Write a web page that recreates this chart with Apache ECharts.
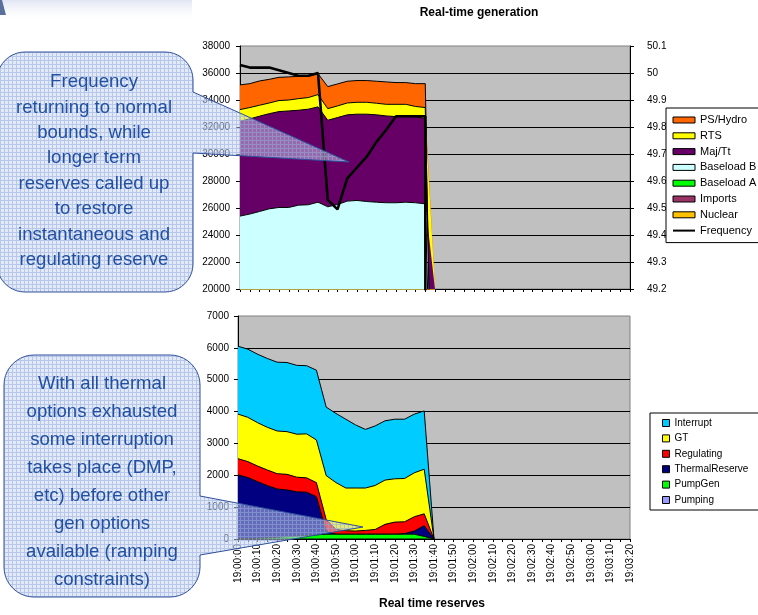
<!DOCTYPE html>
<html>
<head>
<meta charset="utf-8">
<script src="https://cdn.jsdelivr.net/npm/echarts@6/dist/echarts.min.js"></script>
<style>
  html, body { margin: 0; padding: 0; background: #fff; }
  #chart { width: 758px; height: 615px; }
</style>
</head>
<body>
<div id="chart"></div>
<script>
// Time axis, one category every 5 seconds; labels shown every 10 seconds
const timeLabels = [
  '19:00:00','19:00:05','19:00:10','19:00:15','19:00:20','19:00:25','19:00:30','19:00:35',
  '19:00:40','19:00:45','19:00:50','19:00:55','19:01:00','19:01:05','19:01:10','19:01:15',
  '19:01:20','19:01:25','19:01:30','19:01:35','19:01:40','19:01:45','19:01:50','19:01:55',
  '19:02:00','19:02:05','19:02:10','19:02:15','19:02:20','19:02:25','19:02:30','19:02:35',
  '19:02:40','19:02:45','19:02:50','19:02:55','19:03:00','19:03:05','19:03:10','19:03:15',
  '19:03:20'
];

// Real-time generation (MW), stacked bottom to top
const nuclear    = [7000,7000,7000,7000,7000,7000,7000,7000,7000,7000,7000,7000,7000,7000,7000,7000,7000,7000,7000,7000,0];
const imports    = [2500,2500,2500,2500,2500,2500,2500,2500,2500,2500,2500,2500,2500,2500,2500,2500,2500,2500,2500,2500,0];
const baseloadA  = [8500,8500,8500,8500,8500,8500,8500,8500,8500,8500,8500,8500,8500,8500,8500,8500,8500,8500,8500,8500,0];
const baseloadB  = [7400,7550,7740,7940,8040,8040,8210,8240,8430,8090,8260,8510,8560,8480,8430,8390,8390,8430,8390,8310,0];
const majTt      = [7030,7050,7060,7050,7100,7150,7030,7080,7060,6410,6440,6390,6390,6470,6470,6430,6380,6340,6360,6340,0];
const rts        = [860,840,810,790,820,810,860,860,910,860,860,880,880,880,860,860,910,910,770,790,0];
const psHydro    = [1830,1770,1800,1750,1720,1710,1660,1580,1550,1630,1630,1610,1610,1610,1630,1660,1610,1610,1690,1770,0];
// System frequency (Hz), right axis
const frequency  = [50.03,50.02,50.02,50.02,50.01,50.00,49.99,49.99,50.00,49.53,49.495,49.61,49.65,49.69,49.745,49.79,49.84,49.84,49.84,49.84,0];

// Real time reserves (MW), stacked bottom to top
const pumping        = [0,0,0,0,0,0,0,0,0,0,0,0,0,0,0,0,0,0,0,0,0];
const pumpGen        = [0,10,20,35,50,70,90,110,130,150,150,150,150,150,150,150,150,150,150,80,0];
const thermalReserve = [2010,1920,1780,1640,1520,1470,1390,1360,1200,100,0,0,0,0,0,0,0,20,100,340,0];
const regulating     = [510,500,490,490,480,490,460,450,440,360,150,110,100,120,150,310,380,370,450,370,0];
const gt             = [1400,1390,1360,1340,1340,1340,1350,1380,1340,1380,1470,1340,1350,1330,1380,1390,1360,1360,1380,1400,0];
const interrupt      = [2130,2140,2150,2160,2160,2170,2160,2140,2190,2150,2170,2160,1980,1840,1870,1860,1870,1860,1840,1830,0];

// Axis ticks
const genAxis  = { min: 20000, max: 38000, interval: 2000 };
const freqAxis = { min: 49.2, max: 50.1, interval: 0.1 };
const resAxis  = { min: 0, max: 7000, interval: 1000 };

const FONT = "'Liberation Sans', Arial, sans-serif";

const genSeries = [
  { name: 'Nuclear',    data: nuclear,   color: '#FFC000' },
  { name: 'Imports',    data: imports,   color: '#993366' },
  { name: 'Baseload A', data: baseloadA, color: '#00FF00' },
  { name: 'Baseload B', data: baseloadB, color: '#CCFFFF' },
  { name: 'Maj/Tt',     data: majTt,     color: '#660066' },
  { name: 'RTS',        data: rts,       color: '#FFFF00' },
  { name: 'PS/Hydro',   data: psHydro,   color: '#FF6600' }
];
const resSeries = [
  { name: 'Pumping',        data: pumping,        color: '#9999FF' },
  { name: 'PumpGen',        data: pumpGen,        color: '#00FF00' },
  { name: 'ThermalReserve', data: thermalReserve, color: '#000080' },
  { name: 'Regulating',     data: regulating,     color: '#FF0000' },
  { name: 'GT',             data: gt,             color: '#FFFF00' },
  { name: 'Interrupt',      data: interrupt,      color: '#00CCFF' }
];

function areaSeries(s, i, xi, yi, stack) {
  return {
    name: s.name, type: 'line', data: s.data, stack: stack,
    xAxisIndex: xi, yAxisIndex: yi, symbol: 'none', showSymbol: false,
    z: 10 - i, silent: true,
    lineStyle: { color: '#000', width: 1 },
    itemStyle: { color: s.color },
    areaStyle: { color: s.color, opacity: 1 },
    emphasis: { disabled: true }
  };
}

const series = [];
genSeries.forEach((s, i) => series.push(areaSeries(s, i, 0, 0, 'gen')));
series.push({
  name: 'Frequency', type: 'line', data: frequency, xAxisIndex: 0, yAxisIndex: 1,
  symbol: 'none', showSymbol: false, z: 20, silent: true,
  lineStyle: { color: '#000', width: 2.6 }, itemStyle: { color: '#000' },
  emphasis: { disabled: true }
});
resSeries.forEach((s, i) => series.push(areaSeries(s, i, 1, 2, 'res')));

const rectIcon = s => ({ name: s.name, icon: 'rect',
  itemStyle: { color: s.color, borderColor: '#000', borderWidth: 1, opacity: 1 } });
const genLegend = genSeries.slice().reverse().map(rectIcon);
genLegend.push({ name: 'Frequency', itemStyle: { opacity: 0 }, lineStyle: { color: '#000', width: 2 } });
const resLegend = resSeries.slice().reverse().map(rectIcon);

// Hatched fill of the call-out balloons
function makeHatch() {
  const c = document.createElement('canvas');
  c.width = 4; c.height = 4;
  const g = c.getContext('2d');
  g.fillStyle = 'rgba(200,214,240,0.5)';
  g.fillRect(0, 0, 4, 4);
  g.fillStyle = 'rgba(150,172,222,0.55)';
  g.fillRect(0, 0, 4, 1);
  g.fillRect(0, 1, 1, 3);
  return c;
}
const hatch = { image: makeHatch(), repeat: 'repeat' };

// Rounded balloon outline with a wedge pointer on its right side
function balloon(x0, y0, x1, y1, r, py0, py1, tx, ty) {
  const pts = [];
  const arc = (cx, cy, a0, a1) => {
    const n = 10;
    for (let k = 0; k <= n; k++) {
      const a = a0 + (a1 - a0) * k / n;
      pts.push([cx + r * Math.cos(a), cy + r * Math.sin(a)]);
    }
  };
  arc(x0 + r, y0 + r, Math.PI, 1.5 * Math.PI);
  arc(x1 - r, y0 + r, 1.5 * Math.PI, 2 * Math.PI);
  pts.push([x1, py0], [tx, ty], [x1, py1]);
  arc(x1 - r, y1 - r, 0, 0.5 * Math.PI);
  arc(x0 + r, y1 - r, 0.5 * Math.PI, Math.PI);
  return pts;
}

const noteTop = 'Frequency\nreturning to normal\nbounds, while\nlonger term\nreserves called up\nto restore\ninstantaneous and\nregulating reserve';
const noteBottom = 'With all thermal\noptions exhausted\nsome interruption\ntakes place (DMP,\netc) before other\ngen options\navailable (ramping\nconstraints)';

const plainNumber = v => String(v);
const valueAxisBase = {
  type: 'value',
  axisLine: { show: true, lineStyle: { color: '#000', width: 1 } },
  axisTick: { show: true, length: 4, inside: false, lineStyle: { color: '#000' } },
  axisLabel: { fontFamily: FONT, fontSize: 10, color: '#000', formatter: plainNumber }
};
const splitBlack = { show: true, showMinLine: false, showMaxLine: false, lineStyle: { color: '#000', width: 1 } };

const option = {
  animation: false,
  backgroundColor: '#fff',
  grid: [
    { left: 240, top: 46, width: 390, height: 243, show: true, backgroundColor: '#C0C0C0',
      borderColor: '#808080', borderWidth: 1, containLabel: false, outerBoundsMode: 'none' },
    { left: 238, top: 316, width: 392, height: 223, show: true, backgroundColor: '#C0C0C0',
      borderColor: '#808080', borderWidth: 1, containLabel: false, outerBoundsMode: 'none' }
  ],
  xAxis: [
    { type: 'category', gridIndex: 0, data: timeLabels, boundaryGap: false,
      axisLine: { show: true, lineStyle: { color: '#000', width: 1 } },
      axisTick: { show: true, interval: 0, length: 3, lineStyle: { color: '#000' } },
      axisLabel: { show: false }, splitLine: { show: false } },
    { type: 'category', gridIndex: 1, data: timeLabels, boundaryGap: false,
      axisLine: { show: true, lineStyle: { color: '#000', width: 1 } },
      axisTick: { show: true, interval: 0, length: 3, lineStyle: { color: '#000' } },
      axisLabel: { show: true, interval: 1, rotate: 90, margin: 5, fontFamily: FONT, fontSize: 10, color: '#000' },
      splitLine: { show: false } }
  ],
  yAxis: [
    Object.assign({}, valueAxisBase, genAxis, { gridIndex: 0, position: 'left',
      axisLabel: Object.assign({}, valueAxisBase.axisLabel, { margin: 10 }), splitLine: splitBlack }),
    Object.assign({}, valueAxisBase, freqAxis, { gridIndex: 0, position: 'right',
      axisLabel: Object.assign({}, valueAxisBase.axisLabel, { margin: 17 }), splitLine: { show: false } }),
    Object.assign({}, valueAxisBase, resAxis, { gridIndex: 1, position: 'left',
      axisLabel: Object.assign({}, valueAxisBase.axisLabel, { margin: 9 }), splitLine: splitBlack })
  ],
  legend: [
    { orient: 'vertical', left: 666, top: 108, padding: [6, 8, 6, 6], itemWidth: 22, itemHeight: 6,
      itemGap: 3.8, borderColor: '#000', borderWidth: 1, backgroundColor: '#fff', selectedMode: false,
      textStyle: { fontFamily: FONT, fontSize: 11, color: '#000', lineHeight: 12 }, data: genLegend },
    { orient: 'vertical', left: 650, top: 413, padding: [4.5, 11, 4.5, 12], itemWidth: 7, itemHeight: 7,
      itemGap: 4.4, borderColor: '#000', borderWidth: 1, backgroundColor: '#fff', selectedMode: false,
      textStyle: { fontFamily: FONT, fontSize: 10, color: '#000', lineHeight: 11 }, data: resLegend }
  ],
  series: series,
  graphic: [
    { type: 'rect', shape: { x: 0, y: 0, width: 192, height: 22 }, z: 50, silent: true,
      style: { fill: { type: 'linear', x: 0, y: 0, x2: 0, y2: 1,
        colorStops: [{ offset: 0, color: '#E1E4F3' }, { offset: 1, color: 'rgba(255,255,255,0)' }] } } },
    { type: 'polygon', shape: { points: [[0, 0], [2, 0], [6, 15], [0, 15]] }, z: 51, silent: true,
      style: { fill: '#5B6F9C' } },
    { type: 'text', x: 479, y: 13, z: 60, silent: true,
      style: { text: 'Real-time generation', fill: '#000', fontFamily: FONT, fontSize: 12, fontWeight: 'bold',
        align: 'center', verticalAlign: 'middle', textAlign: 'center', textVerticalAlign: 'middle' } },
    { type: 'text', x: 432, y: 604, z: 60, silent: true,
      style: { text: 'Real time reserves', fill: '#000', fontFamily: FONT, fontSize: 12, fontWeight: 'bold',
        align: 'center', verticalAlign: 'middle', textAlign: 'center', textVerticalAlign: 'middle' } },
    { type: 'polygon', z: 100, silent: true,
      shape: { points: balloon(-3, 52, 193, 292, 28, 92, 153, 349, 162) },
      style: { fill: hatch, stroke: '#2E4F9C', lineWidth: 1 } },
    { type: 'text', x: 94, y: 171, z: 101, silent: true,
      style: { text: noteTop, fill: '#2150A2', fontFamily: FONT, fontSize: 18.6, lineHeight: 25.4,
        align: 'center', verticalAlign: 'middle', textAlign: 'center', textVerticalAlign: 'middle' } },
    { type: 'polygon', z: 100, silent: true,
      shape: { points: balloon(4, 355, 200, 597, 30, 496, 555, 363, 527) },
      style: { fill: hatch, stroke: '#2E4F9C', lineWidth: 1 } },
    { type: 'text', x: 102, y: 482, z: 101, silent: true,
      style: { text: noteBottom, fill: '#2150A2', fontFamily: FONT, fontSize: 18.6, lineHeight: 28,
        align: 'center', verticalAlign: 'middle', textAlign: 'center', textVerticalAlign: 'middle' } }
  ]
};

const chart = echarts.init(document.getElementById('chart'), null, { renderer: 'canvas' });
chart.setOption(option);
</script>
</body>
</html>
